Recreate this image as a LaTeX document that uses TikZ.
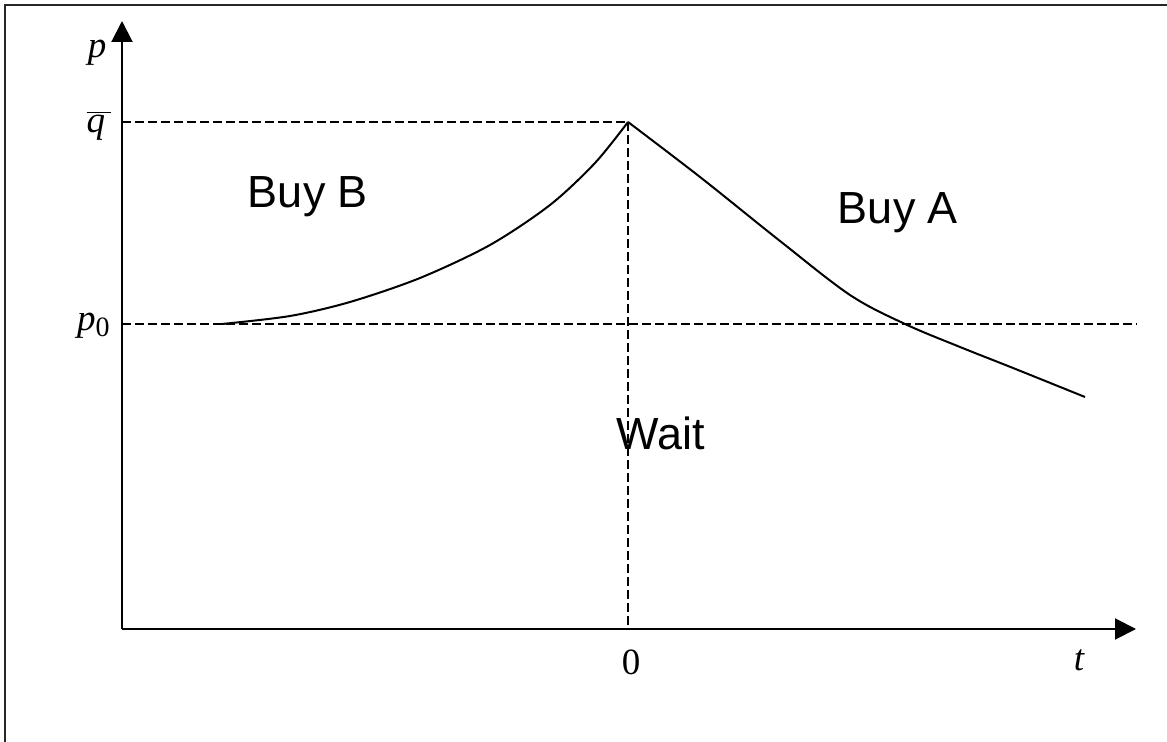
\documentclass[tikz,border=0pt]{standalone}
\usepackage{fontspec}
\setmainfont{Liberation Serif}
\newfontfamily\regionfont{Liberation Sans}
\usetikzlibrary{arrows.meta}

\begin{document}
\begin{tikzpicture}[
  x=0.5pt, y=-0.5pt,
  axis/.style={line width=1pt, -{Triangle[length=10.5pt, width=10.5pt]}},
  guide/.style={line width=0.75pt, dash pattern=on 4.5pt off 2pt},
  bound/.style={line width=1pt},
  lbl/.style={font=\fontsize{18.5}{22}\selectfont, inner sep=0pt},
  region/.style={font=\regionfont\fontsize{22.5}{27}\selectfont, inner sep=0pt}
]
\useasboundingbox (0,0) rectangle (1167,742);
\draw[line width=1pt, black!85] (5,742) -- (5,5) -- (1167,5);

% axes
\coordinate (o) at (122,629);
\coordinate (ytip) at (122,21);
\coordinate (xtip) at (1136,629);
\coordinate (qbar) at (122,122);
\coordinate (pzero) at (122,324);
\coordinate (peak) at (628,122);
\coordinate (zero) at (628,629);
\coordinate (pend) at (1137,324);
\draw[axis] (o) -- (ytip);
\draw[axis] (o) -- (xtip);

% guides
\draw[guide] (qbar) -- (peak);
\draw[guide] (pzero) -- (pend);
\draw[guide] (peak) -- (zero);

% boundaries
\draw[bound] plot[smooth, tension=0.5] coordinates
  {(222,324) (290,316) (350,302) (420,278) (490,245) (550,205) (595,163) (peak)};
\draw[bound] plot[smooth, tension=0.55] coordinates
  {(peak) (700,177) (780,241) (850,295) (905,324) (960,347)
   (1013,368) (1085,397)};

% labels
\node[lbl, anchor=base] (plab) at (97,58) {\itshape p};
\node[lbl, anchor=base] (qlab) at (99,133) {$\overline{\hbox{\itshape q\,}}$};
\node[lbl, anchor=base east] (p0lab) at (110,331)
  {\itshape p\raisebox{-0.35ex}{\upshape\fontsize{14}{16}\selectfont 0}};
\node[lbl, anchor=base] (zlab) at (631,675) {0};
\node[lbl, anchor=base] (tlab) at (1079,670) {\itshape t};
\node[region, anchor=base] (buyb) at (308,208) {Buy B};
\node[region, anchor=base] (buya) at (898,224) {Buy A};
\node[region, anchor=base] (wait) at (661,450) {Wait};
\end{tikzpicture}
\end{document}
